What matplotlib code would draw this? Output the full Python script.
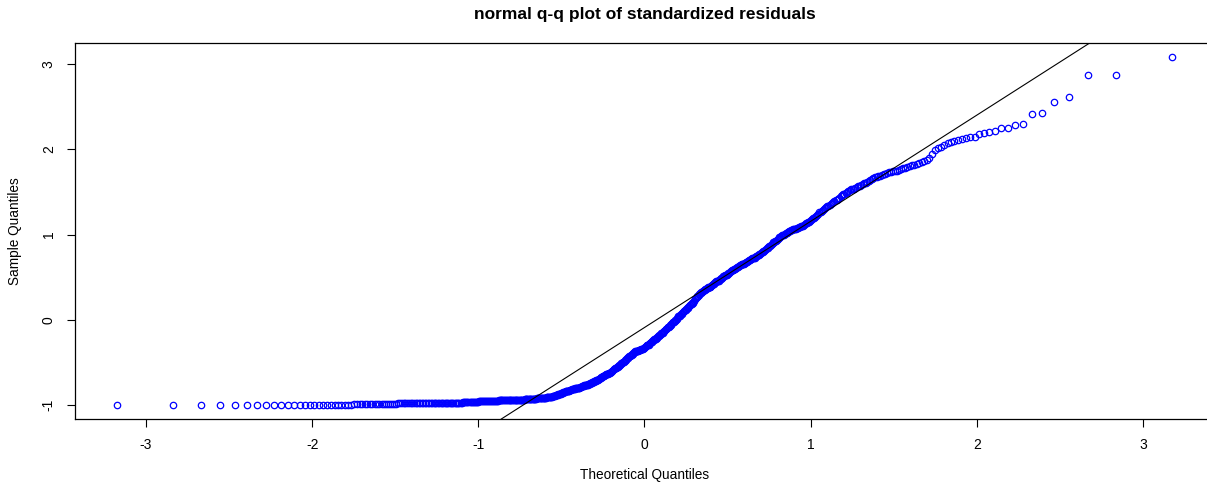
import matplotlib
matplotlib.use("Agg")
import matplotlib.pyplot as plt
import numpy as np
from statistics import NormalDist

plt.rcParams['font.family'] = ['Liberation Sans', 'DejaVu Sans']

## Textos do gráfico
title = "normal q-q plot of standardized residuals"
x_label = "Theoretical Quantiles"
y_label = "Sample Quantiles"
x_ticks = [-3, -2, -1, 0, 1, 2, 3]
y_ticks = [-1, 0, 1, 2, 3]

## Resíduos padronizados (já em ordem crescente)
## Parte baixa: cauda esquerda quase plana perto de -1
resid_low = [
    -1.00, -1.00, -1.00, -1.00, -1.00, -1.00, -1.00, -1.00, -1.00, -1.00, -1.00, -1.00, -1.00,
    -1.00, -1.00, -1.00, -1.00, -1.00, -1.00, -1.00, -1.00, -1.00, -1.00, -1.00, -1.00, -1.00,
    -0.99, -0.99, -0.99, -0.99, -0.99, -0.99, -0.99, -0.99, -0.99, -0.99, -0.99, -0.99, -0.99,
    -0.99, -0.99, -0.99, -0.99, -0.99, -0.99,
    -0.98, -0.98, -0.98, -0.98, -0.98, -0.98, -0.98, -0.98, -0.98, -0.98, -0.98, -0.98, -0.98,
    -0.98, -0.98, -0.98, -0.98, -0.98, -0.98, -0.98,
    -0.97, -0.97, -0.97, -0.97, -0.97, -0.97, -0.97, -0.97, -0.97, -0.97, -0.97, -0.97, -0.97,
    -0.97, -0.97, -0.97, -0.97, -0.97, -0.97, -0.97, -0.97, -0.97, -0.97, -0.97, -0.97,
    -0.96, -0.96, -0.96, -0.96, -0.96, -0.96, -0.96, -0.96, -0.96, -0.96, -0.96, -0.96, -0.96,
    -0.96, -0.96,
    -0.95, -0.95, -0.95, -0.95, -0.95, -0.95, -0.95, -0.95, -0.95, -0.95, -0.95, -0.95, -0.95,
    -0.95, -0.95, -0.95, -0.95, -0.95, -0.95, -0.95,
    -0.94, -0.94, -0.94, -0.94, -0.94, -0.94, -0.94, -0.94, -0.94, -0.94, -0.94, -0.94, -0.94,
    -0.94, -0.94, -0.94, -0.94, -0.94, -0.94, -0.94, -0.94, -0.94, -0.94, -0.94, -0.94, -0.94,
    -0.94, -0.94, -0.94, -0.94,
    -0.93, -0.93, -0.93, -0.93, -0.93, -0.93, -0.93, -0.93, -0.93, -0.93, -0.93, -0.93, -0.93,
    -0.93, -0.93,
    -0.92, -0.92, -0.92, -0.92, -0.92, -0.92, -0.92, -0.92, -0.92, -0.92, -0.92,
]

## Parte do meio: subida com a "curva" perto de zero
resid_mid = [
    -0.92, -0.92, -0.91, -0.91, -0.91, -0.91, -0.90, -0.90, -0.90, -0.90, -0.89, -0.89, -0.89,
    -0.89, -0.88, -0.88, -0.88, -0.88, -0.87, -0.87, -0.87, -0.87, -0.86,
    -0.86, -0.86, -0.85, -0.85, -0.85, -0.84, -0.84, -0.84, -0.83, -0.83, -0.83, -0.82, -0.82,
    -0.82, -0.81, -0.81, -0.81, -0.81, -0.81, -0.80, -0.80, -0.80, -0.80, -0.80,
    -0.80, -0.80, -0.79, -0.79, -0.79, -0.78, -0.78, -0.78, -0.77, -0.77, -0.77, -0.76, -0.76,
    -0.76, -0.75, -0.75, -0.75, -0.74, -0.74, -0.74, -0.73, -0.73, -0.73, -0.72, -0.72,
    -0.72, -0.71, -0.71, -0.70, -0.70, -0.69, -0.69, -0.68, -0.68, -0.67, -0.67, -0.66, -0.66,
    -0.66, -0.65, -0.65, -0.64, -0.64, -0.63, -0.63, -0.62, -0.62, -0.62, -0.61, -0.61,
    -0.60, -0.60, -0.59, -0.58, -0.58, -0.57, -0.57, -0.56, -0.55, -0.55, -0.54, -0.54, -0.53,
    -0.53, -0.52, -0.51, -0.51, -0.50, -0.49, -0.49, -0.48, -0.47, -0.47, -0.46, -0.45, -0.45,
    -0.44, -0.43, -0.43, -0.42, -0.41, -0.41, -0.40, -0.40, -0.39, -0.38, -0.38, -0.37, -0.37,
    -0.36, -0.36, -0.36, -0.35, -0.35, -0.35, -0.35, -0.34, -0.34, -0.34, -0.34, -0.33, -0.33,
    -0.32, -0.32, -0.31, -0.30, -0.30, -0.29, -0.29, -0.28, -0.27, -0.27, -0.26, -0.26, -0.25,
    -0.24, -0.24, -0.23, -0.22, -0.22, -0.21, -0.21, -0.20, -0.19, -0.19, -0.18, -0.18, -0.17,
    -0.16, -0.15, -0.15, -0.14, -0.13, -0.13, -0.12, -0.11, -0.11, -0.10, -0.09, -0.09, -0.08,
    -0.07, -0.06, -0.06, -0.05, -0.04, -0.03, -0.03, -0.02, -0.01, 0.00, 0.00, 0.01, 0.02,
    0.03, 0.04, 0.04, 0.05, 0.06, 0.07, 0.07, 0.08, 0.09, 0.10, 0.10, 0.11, 0.12,
    0.13, 0.14, 0.14, 0.15, 0.16, 0.17, 0.17, 0.18, 0.19, 0.20, 0.20, 0.21, 0.22,
    0.24, 0.25, 0.26, 0.27, 0.28, 0.28, 0.29, 0.30, 0.31, 0.32, 0.33, 0.33,
    0.34, 0.34, 0.35, 0.35, 0.36, 0.36, 0.37, 0.37, 0.38, 0.38, 0.39, 0.39, 0.40,
    0.41, 0.41, 0.42, 0.42, 0.43, 0.44, 0.44, 0.45, 0.45, 0.46, 0.46, 0.47,
    0.48, 0.48, 0.49, 0.49, 0.50, 0.51, 0.51, 0.52, 0.52, 0.53, 0.53, 0.54,
    0.55, 0.55, 0.56, 0.57, 0.57, 0.58, 0.59, 0.59, 0.60, 0.60, 0.61,
    0.61, 0.62, 0.62, 0.63, 0.63, 0.64, 0.64, 0.65, 0.65, 0.66, 0.66,
    0.67, 0.67, 0.68, 0.68, 0.69, 0.69, 0.70, 0.70, 0.71, 0.71, 0.72,
    0.72, 0.73, 0.73, 0.74, 0.75, 0.75, 0.76, 0.76, 0.77, 0.77, 0.78,
]

## Parte alta: acima da reta até a cauda direita
resid_high = [
    0.79, 0.80, 0.81, 0.81, 0.82, 0.83, 0.84, 0.84, 0.85, 0.86,
    0.87, 0.88, 0.89, 0.90, 0.91, 0.91, 0.92, 0.93, 0.94, 0.95,
    0.96, 0.97, 0.97, 0.98, 0.99, 1.00, 1.00, 1.01, 1.02,
    1.02, 1.03, 1.03, 1.04, 1.04, 1.05, 1.05, 1.06, 1.06,
    1.07, 1.07, 1.08, 1.08, 1.09, 1.09, 1.10, 1.10, 1.10,
    1.11, 1.12, 1.13, 1.14, 1.15, 1.15, 1.16, 1.17,
    1.18, 1.19, 1.20, 1.21, 1.22, 1.23, 1.24, 1.26,
    1.27, 1.28, 1.29, 1.30, 1.31, 1.32, 1.33,
    1.34, 1.35, 1.36, 1.37, 1.38, 1.39, 1.40,
    1.41, 1.42, 1.43, 1.45, 1.46, 1.47, 1.48,
    1.49, 1.50, 1.51, 1.52, 1.53, 1.54, 1.54, 1.55, 1.56, 1.57, 1.57, 1.58,
    1.59, 1.60, 1.61, 1.62, 1.63, 1.64, 1.65, 1.66, 1.67, 1.68,
    1.69, 1.69, 1.70, 1.71, 1.71, 1.72, 1.73, 1.73, 1.74,
    1.75, 1.75, 1.76, 1.77, 1.78, 1.78, 1.79, 1.80,
    1.81, 1.82, 1.83, 1.84, 1.85, 1.86, 1.87,
    1.90, 1.95, 1.99, 2.01, 2.03, 2.05,
    2.07, 2.09, 2.10, 2.11,
    2.12, 2.13, 2.14, 2.15,
    2.18, 2.19, 2.20, 2.22, 2.25, 2.25, 2.28, 2.30, 2.41, 2.43, 2.56, 2.61, 2.87, 2.87, 3.08,
]

#### Quantis como no qqnorm do R
sample = np.sort(np.array(resid_low + resid_mid + resid_high))
n = len(sample)
nd = NormalDist()
## ppoints: (i - 0.5)/n para n > 10
theo = np.array([nd.inv_cdf((i - 0.5) / n) for i in range(1, n + 1)])

## qqline: reta pelos quartis
q_y = np.quantile(sample, [0.25, 0.75])
q_x = np.array([nd.inv_cdf(0.25), nd.inv_cdf(0.75)])
slope = (q_y[1] - q_y[0]) / (q_x[1] - q_x[0])
intercept = q_y[0] - slope * q_x[0]

#### Figura
W, H = 1207, 483
fig = plt.figure(figsize=(W / 100, H / 100), dpi=100)
ax = fig.add_axes([75.3 / W, 1 - 419 / H, 1138.4 / W, 375.7 / H])

ax.plot(theo, sample, 'o', mfc='none', mec='#0000FF', ms=4.6, mew=0.9)
ax.axline((0, intercept), slope=slope, color='black', lw=0.8)

## limites com 4% de folga, como o R
rx = theo.max() - theo.min()
ry = sample.max() - sample.min()
ax.set_xlim(theo.min() - 0.04 * rx, theo.max() + 0.04 * rx)
ax.set_ylim(sample.min() - 0.04 * ry, sample.max() + 0.04 * ry)

ax.set_xticks(x_ticks)
ax.set_yticks(y_ticks)
ax.set_xticklabels([str(t) for t in x_ticks])
ax.set_yticklabels([str(t) for t in y_ticks], rotation=90, va='center')
ax.tick_params(direction='out', length=6, width=0.8, labelsize=10, pad=8)
for s in ax.spines.values():
    s.set_linewidth(0.9)

fig.text(644.5 / W, 1 - 15 / H, title, ha='center', va='center',
         fontsize=12.5, fontweight='bold')
fig.text(645 / W, 1 - 475 / H, x_label, ha='center', va='center', fontsize=9.8)
fig.text(15 / W, 1 - 231 / H, y_label, ha='center', va='center',
         rotation=90, fontsize=9.8)

fig.savefig('out.png', dpi=100)
